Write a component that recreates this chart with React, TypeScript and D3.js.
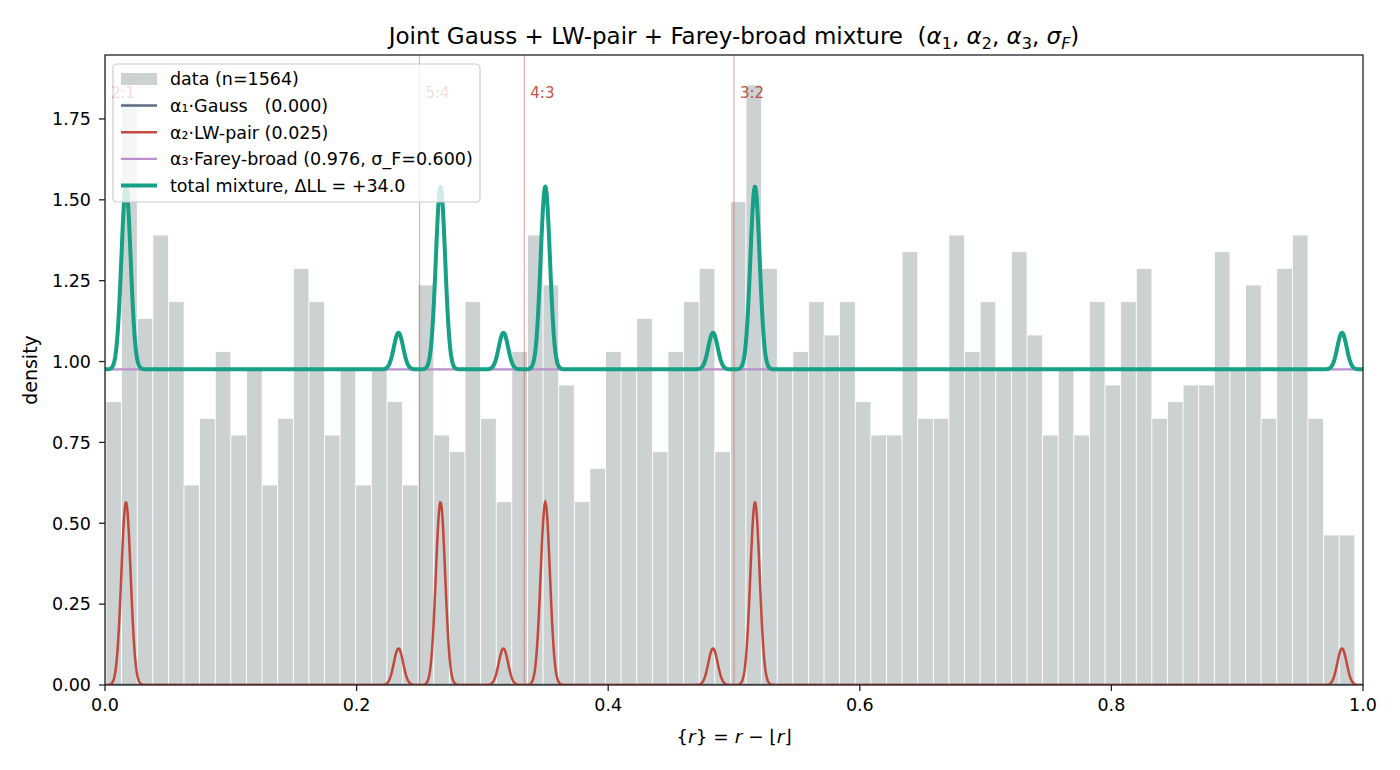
import { scaleLinear, line, range, format } from "d3"

// histogram of {r}, 80 bins
const nSamples = 1564
const binStart = 0.0008
const binEnd = 0.9935
const binCounts = [
  17, 35, 22, 27, 23, 12, 16, 20, 15, 19,
  12, 16, 25, 23, 15, 19, 12, 19, 17, 12,
  24, 15, 14, 23, 16, 11, 20, 27, 24, 18,
  11, 13, 20, 19, 22, 14, 20, 23, 25, 14,
  29, 36, 25, 19, 20, 23, 21, 23, 17, 15,
  15, 26, 16, 16, 27, 20, 23, 19, 26, 21,
  15, 19, 15, 23, 18, 23, 25, 16, 17, 18,
  18, 26, 19, 24, 16, 25, 27, 16, 9, 9,
]

// fitted components
const alphaGauss = 0.0
const alphaFarey = 0.976
const lwCenters = [0.0167, 0.2333, 0.2667, 0.3167, 0.35, 0.4833, 0.5167, 0.9833]
const lwHeights = [0.565, 0.113, 0.565, 0.113, 0.565, 0.113, 0.565, 0.113]
const lwSigma = 0.0037

// resonances
const resPos = [0, 0.25, 1 / 3, 0.5]
const resLabels = ["2:1", "5:4", "4:3", "3:2"]

const xTicks = [0, 0.2, 0.4, 0.6, 0.8, 1.0]
const yTicks = [0, 0.25, 0.5, 0.75, 1.0, 1.25, 1.5, 1.75]

const legendLabels = [
  "data (n=1564)",
  "α₁·Gauss   (0.000)",
  "α₂·LW-pair (0.025)",
  "α₃·Farey-broad (0.976, σ_F=0.600)",
  "total mixture, ΔLL = +34.0",
]

const C_BAR = "#ccd1d1"
const C_GAUSS = "#5d6d7e"
const C_LW = "#c0392b"
const C_FAREY = "#bb8fce"
const C_TOTAL = "#16a085"

const W = 1400, H = 770
const left = 105, right = 1363, top = 55, bottom = 685
const FONT = "DejaVu Sans, sans-serif"
const TICK_FS = 17.5

const App = () => {
  const binW = (binEnd - binStart) / binCounts.length
  const dens = binCounts.map(c => c / (nSamples * binW))
  const yMax = Math.max(...dens) * 1.05

  const x = scaleLinear().domain([0, 1]).range([left, right])
  const y = scaleLinear().domain([0, yMax]).range([bottom, top])

  const grid = range(0, 1.00001, 0.0005)
  const lw = (v) => lwCenters.reduce((s, c, i) => s + lwHeights[i] * Math.exp(-((v - c) ** 2) / (2 * lwSigma * lwSigma)), 0)

  const path = line().x(d => x(d[0])).y(d => y(d[1]))
  const lwPath = path(grid.map(v => [v, lw(v)]))
  const fareyPath = path(grid.map(v => [v, alphaFarey]))
  const gaussPath = path(grid.map(v => [v, alphaGauss]))
  const totalPath = path(grid.map(v => [v, alphaGauss + alphaFarey + lw(v)]))

  const bars = dens.map((d, i) => {
    const x0 = x(binStart + i * binW), x1 = x(binStart + (i + 1) * binW)
    return <rect key={i} x={x0} y={y(d)} width={x1 - x0} height={bottom - y(d)} fill={C_BAR} stroke="#fff" strokeWidth={0.8} />
  })

  const rowY = (i) => 79 + i * 26.6

  return (
    <div style={{ position: "absolute", left: 0, top: 0 }}>
      <svg width={W} height={H} viewBox={`0 0 ${W} ${H}`} fontFamily={FONT}>
        <rect width={W} height={H} fill="#fff" />
        <defs>
          <clipPath id="plot"><rect x={left} y={top} width={right - left} height={bottom - top} /></clipPath>
        </defs>
        <g clipPath="url(#plot)">
          {bars}
          {resPos.map((r, i) => (
            <line key={i} x1={x(r)} x2={x(r)} y1={top} y2={bottom} stroke={C_LW} strokeOpacity={0.4} strokeWidth={1.2} />
          ))}
          <path d={gaussPath} fill="none" stroke={C_GAUSS} strokeWidth={2.5} />
          <path d={lwPath} fill="none" stroke={C_LW} strokeWidth={2.5} strokeOpacity={0.9} />
          <path d={fareyPath} fill="none" stroke={C_FAREY} strokeWidth={2.2} />
          <path d={totalPath} fill="none" stroke={C_TOTAL} strokeWidth={4} strokeLinejoin="round" />
          {resPos.map((r, i) => (
            <text key={i} x={x(r) + 6} y={y(1.816)} fontSize={15} fill={C_LW} fillOpacity={0.9}>{resLabels[i]}</text>
          ))}
        </g>

        {/* axes frame */}
        <rect x={left} y={top} width={right - left} height={bottom - top} fill="none" stroke="#222" strokeWidth={1.3} />
        {yTicks.map(t => (
          <g key={t}>
            <line x1={left - 6} x2={left} y1={y(t)} y2={y(t)} stroke="#222" strokeWidth={1.3} />
            <text x={left - 14} y={y(t)} dy="0.36em" textAnchor="end" fontSize={TICK_FS} fill="#000">{format(".2f")(t)}</text>
          </g>
        ))}
        {xTicks.map(t => (
          <g key={t}>
            <line x1={x(t)} x2={x(t)} y1={bottom} y2={bottom + 6} stroke="#222" strokeWidth={1.3} />
            <text x={x(t)} y={bottom + 26} textAnchor="middle" fontSize={TICK_FS} fill="#000">{format(".1f")(t)}</text>
          </g>
        ))}

        <text x={(left + right) / 2} y={743} textAnchor="middle" fontSize={18.5} fill="#000" style={{ whiteSpace: "pre" }}>
          {"{"}<tspan fontStyle="italic">r</tspan>{"} = "}<tspan fontStyle="italic">r</tspan>{" − ⌊"}<tspan fontStyle="italic">r</tspan>{"⌋"}
        </text>
        <text transform={`translate(37, ${(top + bottom) / 2}) rotate(-90)`} textAnchor="middle" fontSize={19} fill="#000">density</text>

        <text x={(left + right) / 2} y={44} textAnchor="middle" fontSize={23} fill="#000" style={{ whiteSpace: "pre" }}>
          {"Joint Gauss + LW-pair + Farey-broad mixture  ("}
          <tspan fontStyle="italic">α</tspan><tspan fontSize={16} dy={4.5}>1</tspan><tspan dy={-4.5}>, </tspan>
          <tspan fontStyle="italic">α</tspan><tspan fontSize={16} dy={4.5}>2</tspan><tspan dy={-4.5}>, </tspan>
          <tspan fontStyle="italic">α</tspan><tspan fontSize={16} dy={4.5}>3</tspan><tspan dy={-4.5}>, </tspan>
          <tspan fontStyle="italic">σ</tspan><tspan fontSize={16} dy={4.5} fontStyle="italic">F</tspan><tspan dy={-4.5}>)</tspan>
        </text>

        {/* legend */}
        <rect x={113} y={64} width={367} height={138} rx={4} fill="#fff" fillOpacity={0.8} stroke="#cccccc" strokeWidth={1.2} />
        <rect x={121} y={rowY(0) - 6} width={36} height={12} fill={C_BAR} />
        <line x1={121} x2={157} y1={rowY(1)} y2={rowY(1)} stroke={C_GAUSS} strokeWidth={2.5} />
        <line x1={121} x2={157} y1={rowY(2)} y2={rowY(2)} stroke={C_LW} strokeWidth={2.5} strokeOpacity={0.9} />
        <line x1={121} x2={157} y1={rowY(3)} y2={rowY(3)} stroke={C_FAREY} strokeWidth={2.2} />
        <line x1={121} x2={157} y1={rowY(4)} y2={rowY(4)} stroke={C_TOTAL} strokeWidth={4} />
        {legendLabels.map((l, i) => (
          <text key={i} x={170} y={rowY(i)} dy="0.36em" fontSize={17.5} fill="#000" style={{ whiteSpace: "pre" }}>{l}</text>
        ))}
      </svg>
    </div>
  )
}

export default App
